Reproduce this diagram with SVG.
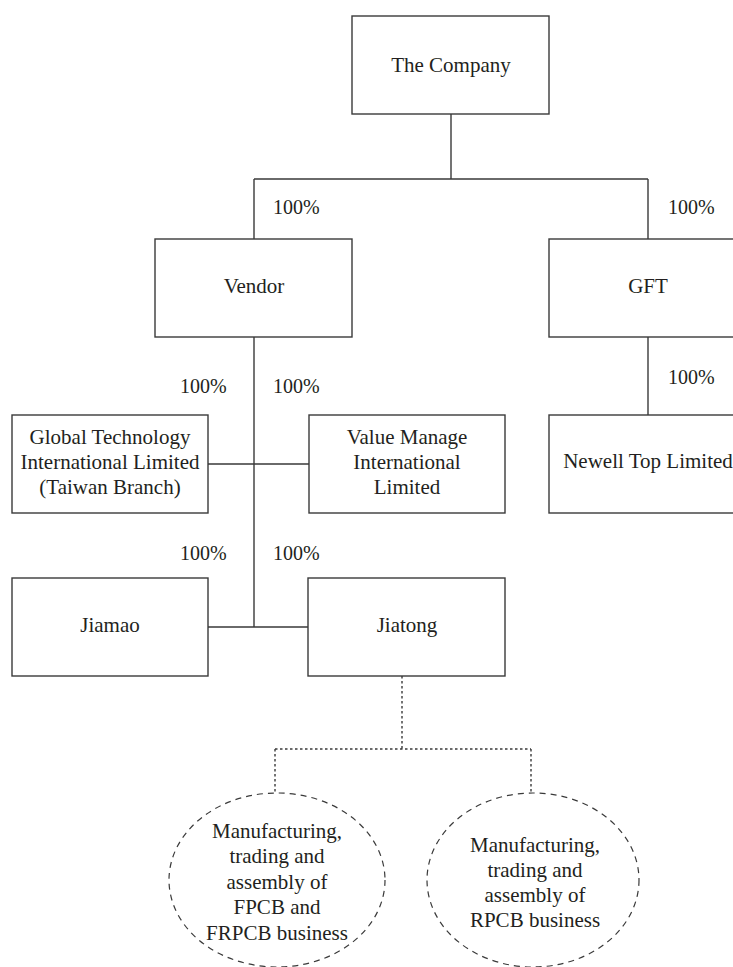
<svg xmlns="http://www.w3.org/2000/svg" width="733" height="967" viewBox="0 0 733 967">
<style>
.box{fill:#fff;stroke:#3a3a3a;stroke-width:1.4}
.ell{fill:none;stroke:#3a3a3a;stroke-width:1.2;stroke-dasharray:6 5}
.ln{fill:none;stroke:#3a3a3a;stroke-width:1.4}
.dot{fill:none;stroke:#3a3a3a;stroke-width:1.4;stroke-dasharray:2.5 2.5}
text{font-family:'Liberation Serif','Times New Roman',serif;font-size:21px;fill:#231f20}
.p{font-size:20px}
.c{text-anchor:middle}
</style>
<rect width="733" height="967" fill="#fff"/>
<g id="connectors">
<path class="ln" d="M451 114V179M254 179H648M254 179V239M648 179V239"/>
<path class="ln" d="M648 337V415"/>
<path class="ln" d="M254 337V627M208 464H309M208 627H308"/>
<path class="dot" d="M402 676V749M275 749H531M275 749V793M531 749V793"/>
<text class="p" x="273" y="214">100%</text>
<text class="p" x="668" y="214">100%</text>
<text class="p" x="668" y="384">100%</text>
<text class="p" x="180" y="393">100%</text>
<text class="p" x="273" y="393">100%</text>
<text class="p" x="180" y="560">100%</text>
<text class="p" x="273" y="560">100%</text>
</g>
<g id="company"><rect class="box" x="352" y="16" width="197" height="98"/><text class="c" x="451" y="72">The Company</text></g>
<g id="vendor"><rect class="box" x="155" y="239" width="197" height="98"/><text class="c" x="254" y="293">Vendor</text></g>
<g id="gft"><rect class="box" x="549" y="239" width="197" height="98"/><text class="c" x="648" y="293">GFT</text></g>
<g id="newell"><rect class="box" x="549" y="415" width="197" height="98"/><text class="c" x="648" y="468">Newell Top Limited</text></g>
<g id="globaltech"><rect class="box" x="12" y="415" width="196" height="98"/>
<text class="c" x="110" y="444">Global Technology</text>
<text class="c" x="110" y="469">International Limited</text>
<text class="c" x="110" y="494">(Taiwan Branch)</text></g>
<g id="valuemanage"><rect class="box" x="309" y="415" width="196" height="98"/>
<text class="c" x="407" y="444">Value Manage</text>
<text class="c" x="407" y="469">International</text>
<text class="c" x="407" y="494">Limited</text></g>
<g id="jiamao"><rect class="box" x="12" y="578" width="196" height="98"/><text class="c" x="110" y="632">Jiamao</text></g>
<g id="jiatong"><rect class="box" x="308" y="578" width="197" height="98"/><text class="c" x="407" y="632">Jiatong</text></g>
<g id="fpcb"><ellipse class="ell" cx="277" cy="880" rx="108" ry="87"/>
<text class="c" x="277" y="838">Manufacturing,</text>
<text class="c" x="277" y="863">trading and</text>
<text class="c" x="277" y="889">assembly of</text>
<text class="c" x="277" y="914">FPCB and</text>
<text class="c" x="277" y="940">FRPCB business</text></g>
<g id="rpcb"><ellipse class="ell" cx="533" cy="880" rx="106" ry="87"/>
<text class="c" x="535" y="852">Manufacturing,</text>
<text class="c" x="535" y="877">trading and</text>
<text class="c" x="535" y="902">assembly of</text>
<text class="c" x="535" y="927">RPCB business</text></g>
</svg>
